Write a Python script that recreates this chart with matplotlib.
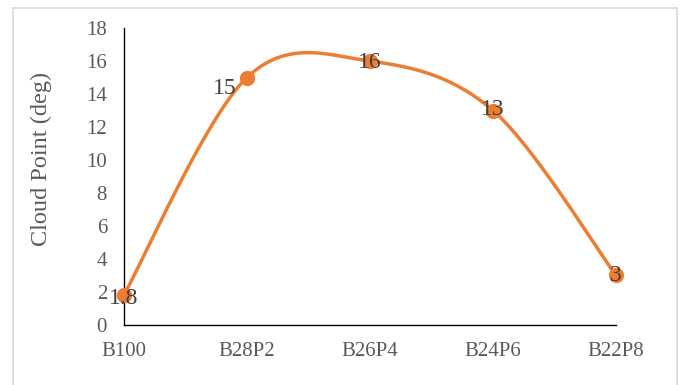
import numpy as np
import matplotlib.pyplot as plt
from matplotlib.patches import Rectangle

categories = ['B100', 'B28P2', 'B26P4', 'B24P6', 'B22P8']
cloud_point = [1.8, 15, 16, 13, 3]
point_labels = ['1.8', '15', '16', '13', '3']
yticks = [0, 2, 4, 6, 8, 10, 12, 14, 16, 18]

orange = '#ED7D31'
grey = '#595959'

plt.rcParams['font.family'] = ['Liberation Serif', 'DejaVu Serif']


def smooth(xs, ys, n=60):
    # Excel-like smoothed line: cubic Bezier with Catmull-Rom control points
    xs = np.asarray(xs, float)
    ys = np.asarray(ys, float)
    P = np.column_stack([xs, ys])
    pts = []
    for i in range(len(P) - 1):
        p0 = P[i - 1] if i > 0 else P[i]
        p1 = P[i]
        p2 = P[i + 1]
        p3 = P[i + 2] if i + 2 < len(P) else P[i + 1]
        c1 = p1 + (p2 - p0) / 6
        c2 = p2 - (p3 - p1) / 6
        t = np.linspace(0, 1, n)[:, None]
        seg = ((1 - t) ** 3 * p1 + 3 * (1 - t) ** 2 * t * c1
               + 3 * (1 - t) * t ** 2 * c2 + t ** 3 * p2)
        pts.append(seg if i == 0 else seg[1:])
    pts = np.vstack(pts)
    return pts[:, 0], pts[:, 1]


fig = plt.figure(figsize=(6.8, 3.85), dpi=100)
ax = fig.add_axes([0.182, 0.156, 0.724, 0.771])

x = np.arange(len(categories))
sx, sy = smooth(x, cloud_point)
ax.plot(sx, sy, color=orange, lw=2.5, solid_capstyle='round', clip_on=False, zorder=3)
ax.plot(x, cloud_point, 'o', color=orange, ms=10, clip_on=False, zorder=4)

offsets = [(0, -2), (-16, -8), (0, -1), (0, 1), (0, 0)]
for xi, yi, lab, off in zip(x, cloud_point, point_labels, offsets):
    ax.annotate(lab, (xi, yi), xytext=off, textcoords='offset points',
                ha='center', va='center', fontsize=17, color='#404040', zorder=5)

ax.set_xlim(0, 4)
ax.set_ylim(0, 18)
ax.set_xticks(x)
ax.set_xticklabels(categories)
ax.set_yticks(yticks)
ax.tick_params(length=0, labelsize=15, labelcolor=grey)
ax.tick_params(axis='x', pad=12)
ax.tick_params(axis='y', pad=12)
fig.text(41 / 680, 1 - 159 / 385, 'Cloud Point (deg)', rotation=90,
         ha='center', va='center', fontsize=17.5, color=grey)

for s in ['top', 'right']:
    ax.spines[s].set_visible(False)
for s in ['left', 'bottom']:
    ax.spines[s].set_color('black')
    ax.spines[s].set_linewidth(1.0)

fig.patches.append(Rectangle((13 / 680, -0.1), 664 / 680, 1.1 - 8 / 385,
                             transform=fig.transFigure, fill=False,
                             edgecolor='#D9D9D9', lw=1.2))

fig.savefig('out.png', dpi=100)
